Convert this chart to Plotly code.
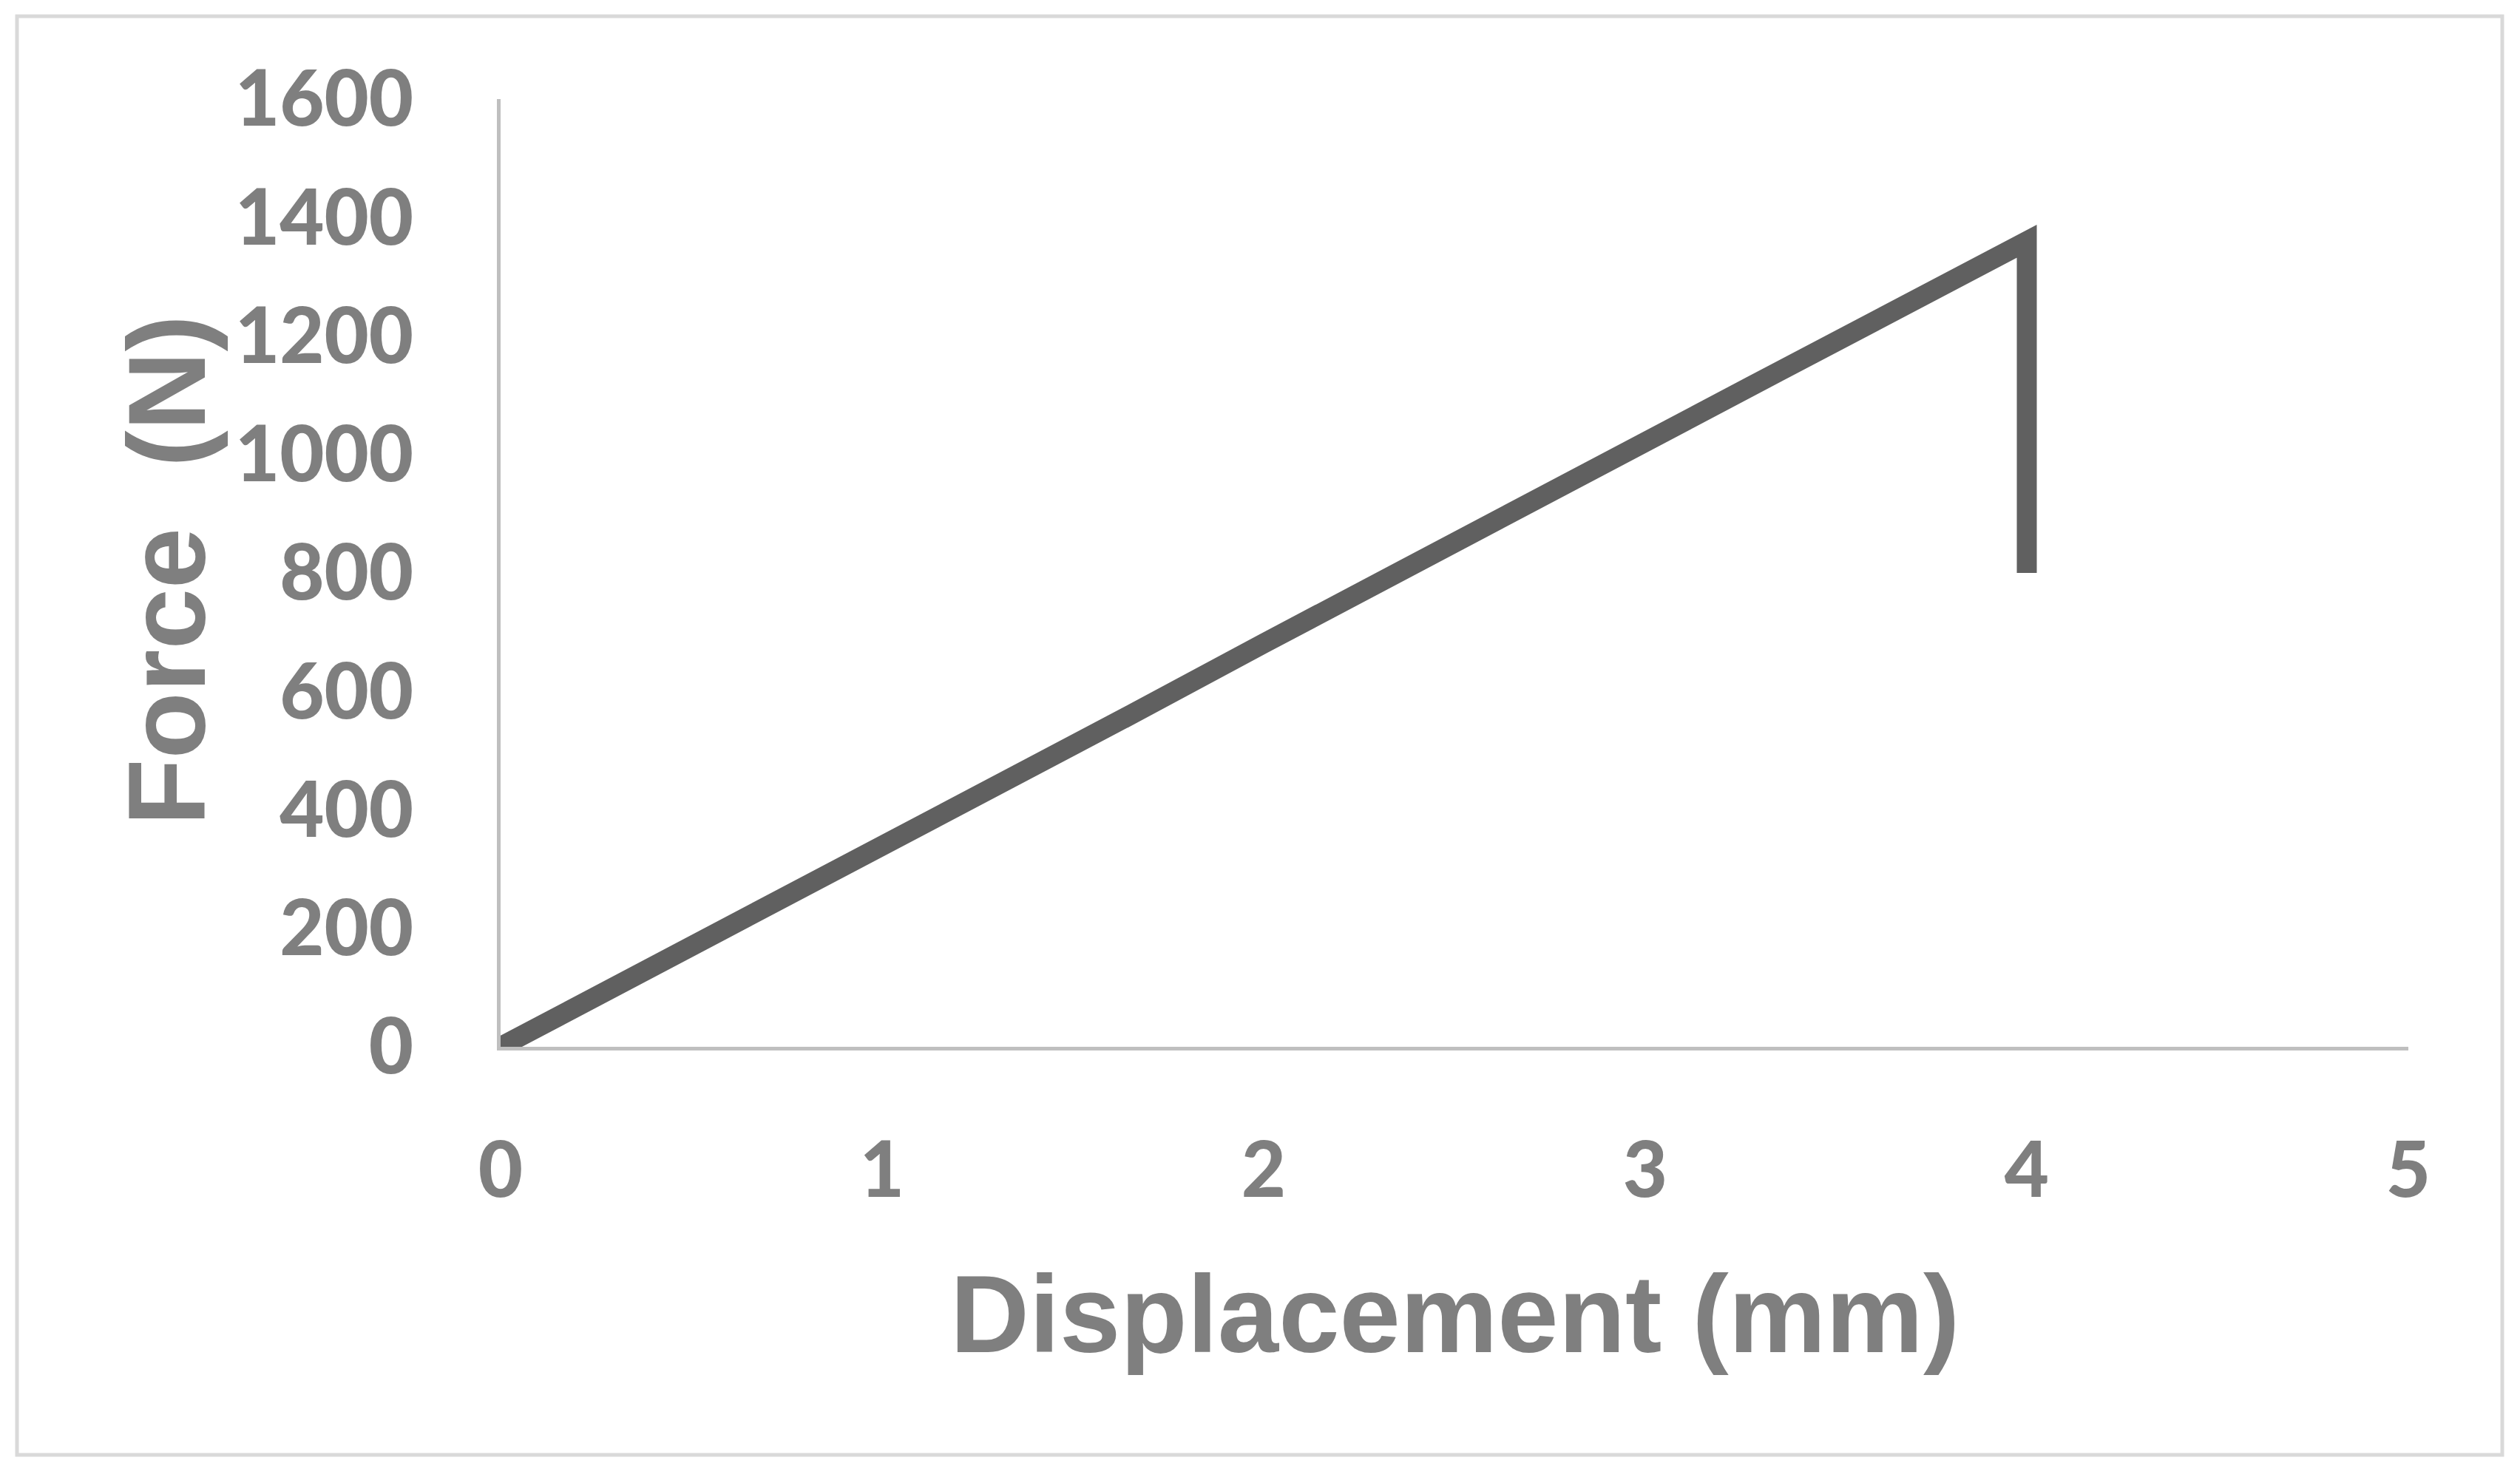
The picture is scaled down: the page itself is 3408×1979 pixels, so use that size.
import plotly.graph_objects as go

# Data
displacement_mm = [0.0, 0.51, 1.0, 1.65, 2.0, 2.70, 3.35, 4.0, 4.0]
force_n = [0, 171, 335, 560, 681, 922, 1140, 1360, 800]

x_ticks = [0, 1, 2, 3, 4, 5]
y_ticks = [0, 200, 400, 600, 800, 1000, 1200, 1400, 1600]

W, H = 3408, 1979
L, R, T, B = 669, 159, 126, 571
pw, ph = W - L - R, H - T - B

def px_to_paper_x(px):
    return (px - L) / pw

def px_to_paper_y(py):
    return (H - B - py) / ph

GRAY_TXT = "#7f7f7f"
TICK_FONT = dict(family="Lato", size=104, color=GRAY_TXT, weight=900)
TITLE_FONT = dict(family="Arial, Liberation Sans, sans-serif", size=148, color=GRAY_TXT, weight="bold")

fig = go.Figure()
fig.add_trace(go.Scatter(
    x=displacement_mm, y=force_n, mode="lines",
    line=dict(color="#606060", width=27),
    showlegend=False, hoverinfo="skip",
))

fig.update_layout(
    width=W, height=H,
    margin=dict(l=L, r=R, t=T, b=B),
    paper_bgcolor="white", plot_bgcolor="white",
    xaxis=dict(
        range=[0, 5], tickvals=x_ticks, ticktext=[str(v) for v in x_ticks],
        showgrid=False, zeroline=False, showline=True, linecolor="#bfbfbf", linewidth=5,
        ticks="", ticklabelstandoff=73, tickfont=TICK_FONT,
    ),
    yaxis=dict(
        range=[0, 1600], tickvals=y_ticks, ticktext=[str(v) for v in y_ticks],
        showgrid=False, zeroline=False, showline=True, linecolor="#bfbfbf", linewidth=5,
        ticks="", ticklabelstandoff=92, tickfont=TICK_FONT,
    ),
    annotations=[
        dict(text="Displacement (mm)", xref="paper", yref="paper",
             x=0.5, y=px_to_paper_y(1769), xanchor="center", yanchor="middle",
             showarrow=False, font=TITLE_FONT),
        dict(text="Force\u00a0\u00a0(N)", xref="paper", yref="paper",
             x=px_to_paper_x(217), y=px_to_paper_y(763), xanchor="center", yanchor="middle",
             textangle=-90, showarrow=False, font=TITLE_FONT),
    ],
    shapes=[
        dict(type="rect", xref="paper", yref="paper",
             x0=px_to_paper_x(15), x1=px_to_paper_x(3376),
             y0=px_to_paper_y(1960), y1=px_to_paper_y(14),
             line=dict(color="#d9d9d9", width=5), fillcolor="rgba(0,0,0,0)", layer="below"),
    ],
)

fig.write_html("out.html")
